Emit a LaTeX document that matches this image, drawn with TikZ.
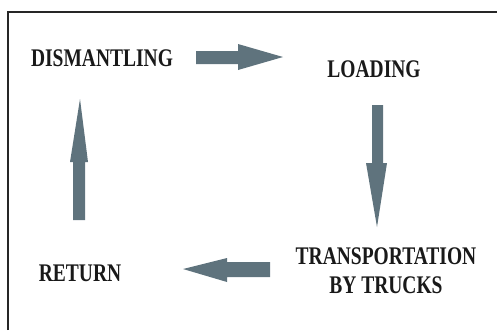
\documentclass[tikz,border=0pt]{standalone}
\usepackage{fontspec}
\usepackage{graphicx}
\setmainfont{Liberation Serif}
\newcommand{\tallbox}[1]{\scalebox{1}[1.3]{#1}}
\begin{document}
\begin{tikzpicture}[x=1pt,y=-1pt,
  lbl/.style={font=\fontsize{19.5}{23}\selectfont\bfseries, text=black!90, inner sep=0pt, align=center},
  blockarrow/.style={fill=arrowgray, draw=none}]
\definecolor{arrowgray}{RGB}{95,115,125}
\useasboundingbox (0,0) rectangle (497,330);
\draw[line width=1.5pt, black!85] (8,330) -- (8,12) -- (497,12);
% labels
\node[lbl] (dis) at (102,58) {\tallbox{DISMANTLING}};
\node[lbl] (load) at (374,69) {\tallbox{LOADING}};
\node[lbl] (trans) at (386,273) {\tallbox{\begin{tabular}{@{}c@{}}TRANSPORTATION\\BY TRUCKS\end{tabular}}};
\node[lbl] (ret) at (80,273) {\tallbox{RETURN}};
% right arrow
\fill[blockarrow] (196,51) -- (238,51) -- (238,44) -- (283,57) -- (238,70) -- (238,64) -- (196,64) -- cycle;
% down arrow
\fill[blockarrow] (372,105) -- (383,105) -- (383,163) -- (387,163) -- (377,227) -- (366,163) -- (372,163) -- cycle;
% left arrow
\fill[blockarrow] (270,262) -- (227,262) -- (227,258) -- (183,269) -- (227,282) -- (227,277) -- (270,277) -- cycle;
% up arrow
\fill[blockarrow] (73,220) -- (85,220) -- (85,162) -- (88,162) -- (80,99) -- (70,162) -- (73,162) -- cycle;
\end{tikzpicture}
\end{document}
